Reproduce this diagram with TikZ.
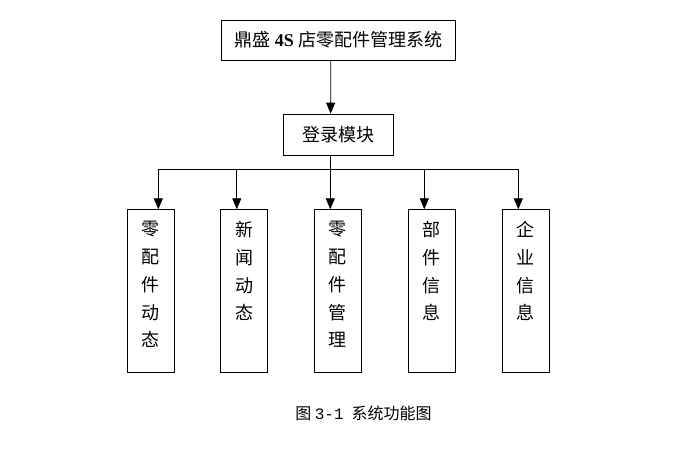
\documentclass[tikz,border=0pt]{standalone}
\usepackage{fontspec}
\setmainfont{Liberation Serif}
\setmonofont{Liberation Mono}
\newfontfamily\cjk{Noto Sans CJK SC}
\usetikzlibrary{arrows.meta}
\tikzset{
	box/.style={draw, line width=0.8pt, inner sep=0pt, font=\cjk\fontsize{18}{18}\selectfont},
	mod/.style={draw, line width=0.8pt, anchor=north, minimum width=47pt, minimum height=162.7pt},
	modtext/.style={anchor=north, inner sep=0pt, align=center, font=\cjk\fontsize{18}{27.7}\selectfont},
	link/.style={line width=0.8pt},
}
\begin{document}
\begin{tikzpicture}[x=1pt, y=-1pt, >={Triangle[length=11pt,width=9pt]}]
	\useasboundingbox (0,0) rectangle (698,467);
	\node[box, minimum width=233.6pt, minimum height=40.3pt] (sys) at (338.5,40.2) {鼎盛 {\rmfamily\bfseries 4S} 店零配件管理系统};
	\node[box, minimum width=110pt, minimum height=41.3pt] (login) at (338.3,134.7) {登录模块};
	\draw[link, ->] ([xshift=-7.7pt]sys.south) -- ([xshift=-7.7pt]login.north);
	\coordinate (bus) at (330.6,169);
	\draw[link] ([xshift=-7.7pt]login.south) -- (bus);
	\foreach \i/\x/\s/\t in {1/150.7/7.6/{零\\配\\件\\动\\态}, 2/244.3/-7.5/{新\\闻\\动\\态}, 3/337.8/-7.5/{零\\配\\件\\管\\理}, 4/431.8/-7.5/{部\\件\\信\\息}, 5/525.8/-7.5/{企\\业\\信\\息}}
	{
		\node[mod] (m\i) at (\x,209.3) {};
		\node[modtext] (t\i) at ([yshift=-12pt]m\i.north) {\t};
		\coordinate (b\i) at ([xshift=\s pt]m\i.north |- bus);
		\draw[link, ->] (b\i) -- ([xshift=\s pt]m\i.north);
	}
	\draw[link] (b1) -- (b5);
	\node[font=\cjk\fontsize{16}{16}\selectfont] (cap) at (363.5,413) {图 {\ttfamily 3-1}\enspace 系统功能图};
\end{tikzpicture}
\end{document}
